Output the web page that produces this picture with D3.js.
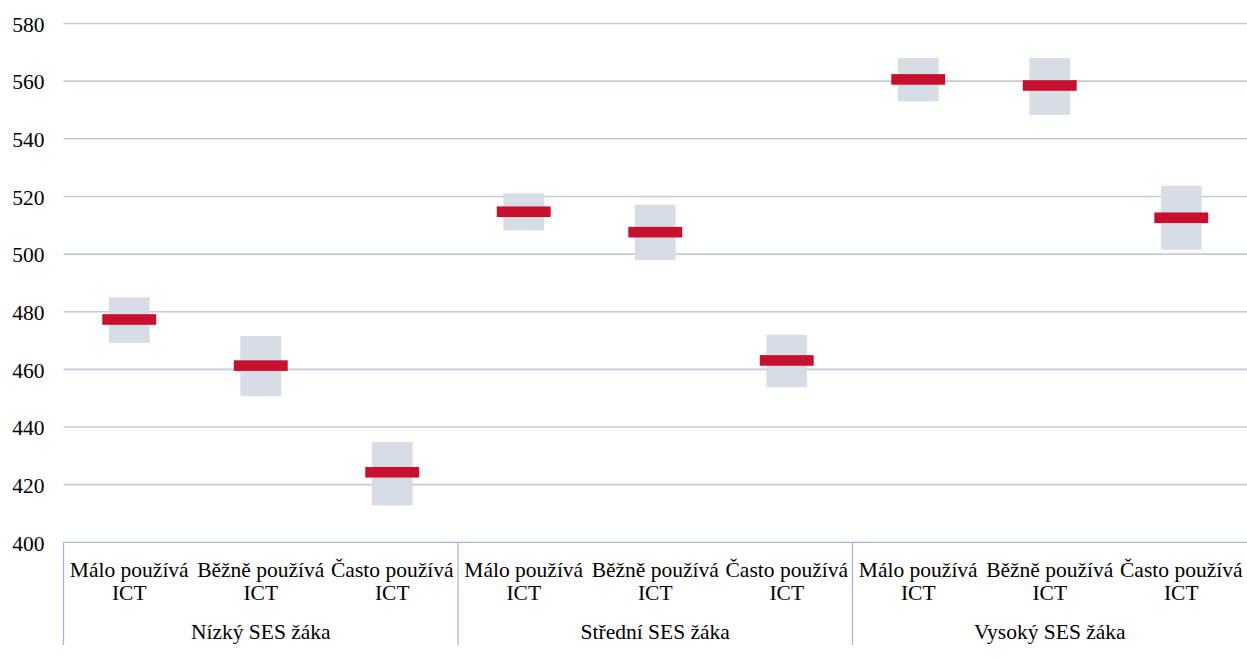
<!DOCTYPE html>
<html><head><meta charset="utf-8">
<script src="https://cdn.jsdelivr.net/npm/d3@7"></script>
<style>body{margin:0;background:#fff}svg{display:block}</style>
</head><body><svg id="c" width="1247" height="659" font-family="Liberation Serif"></svg>
<script>
const groups = ["Nízký SES žáka","Střední SES žáka","Vysoký SES žáka"];
const usage = ["Málo používá ICT","Běžně používá ICT","Často používá ICT"];
const usageLine1 = ["Málo používá","Běžně používá","Často používá"];
const usageLine2 = ["ICT","ICT","ICT"];
const means = [477.3, 461.3, 424.3, 514.7, 507.6, 463.1, 560.6, 558.5, 512.6];
const lower = [469.2, 450.7, 412.8, 508.2, 497.9, 453.8, 553.0, 548.3, 501.5];
const upper = [485.0, 471.6, 434.8, 521.1, 517.1, 472.0, 568.0, 568.0, 523.7];
const yTicks = [400,420,440,460,480,500,520,540,560,580];

(function(){
const FS = 21.5;
const svg = d3.select("#c");
const mL = 63.5, mR = 1247, mT = 23.5, mB = 542.3;
const keys = [];
groups.forEach((g,gi)=>usage.forEach((u,ui)=>keys.push(gi+"|"+ui)));
const x = d3.scaleBand().domain(keys).range([mL,mR]).padding(0);
const y = d3.scaleLinear().domain([400,580]).range([mB,mT]);

// gridlines
svg.append("g").selectAll("line").data(yTicks.filter(t=>t>400)).join("line")
  .attr("x1",mL).attr("x2",mR).attr("y1",d=>y(d)).attr("y2",d=>y(d))
  .attr("stroke","#c5ccd9").attr("stroke-width",1.6);

// y axis labels
const yAxis = d3.axisLeft(y).tickValues(yTicks).tickSize(0).tickPadding(19);
const ya = svg.append("g").attr("transform",`translate(${mL},0)`).call(yAxis);
ya.attr("font-family","Liberation Serif").attr("font-size",FS);
ya.select(".domain").remove();
ya.selectAll("text").attr("dy","0.36em").attr("fill","#000")
  .attr("font-family","Liberation Serif").attr("font-size",FS);

// boxes
const data = means.map((m,i)=>({k:keys[i],m,lo:lower[i],hi:upper[i]}));
const bw = x.bandwidth();
svg.append("g").selectAll("rect").data(data).join("rect")
  .attr("x",d=>x(d.k)+bw/2-bw*0.155).attr("width",bw*0.31)
  .attr("y",d=>y(d.hi)).attr("height",d=>y(d.lo)-y(d.hi))
  .attr("fill","#d6dde5");
svg.append("g").selectAll("rect").data(data).join("rect")
  .attr("x",d=>x(d.k)+bw/2-bw*0.205).attr("width",bw*0.41)
  .attr("y",d=>y(d.m)-5.3).attr("height",10.6)
  .attr("fill","#c8102e");

// x axis line
const axisCol = "#a9b6cc";
svg.append("line").attr("x1",mL).attr("x2",mR).attr("y1",mB).attr("y2",mB)
  .attr("stroke",axisCol).attr("stroke-width",1.3);
// separators + group labels
groups.forEach((g,gi)=>{
  const xs = x(gi+"|0");
  svg.append("line").attr("x1",xs).attr("x2",xs).attr("y1",mB).attr("y2",645)
    .attr("stroke",axisCol).attr("stroke-width",1.3);
  const xe = gi<2 ? x((gi+1)+"|0") : mR;
  svg.append("text").attr("x",(xs+xe)/2).attr("y",639).attr("text-anchor","middle")
    .attr("font-family","Liberation Serif").attr("font-size",FS).text(g);
});
// category labels
const lab = svg.append("g").selectAll("g").data(keys).join("g");
lab.append("text").attr("x",k=>x(k)+bw/2).attr("y",577).attr("text-anchor","middle")
  .attr("font-family","Liberation Serif").attr("font-size",FS)
  .text(k=>usageLine1[+k.split("|")[1]]);
lab.append("text").attr("x",k=>x(k)+bw/2).attr("y",600).attr("text-anchor","middle")
  .attr("font-family","Liberation Serif").attr("font-size",FS)
  .text(k=>usageLine2[+k.split("|")[1]]);
})();
</script></body></html>
